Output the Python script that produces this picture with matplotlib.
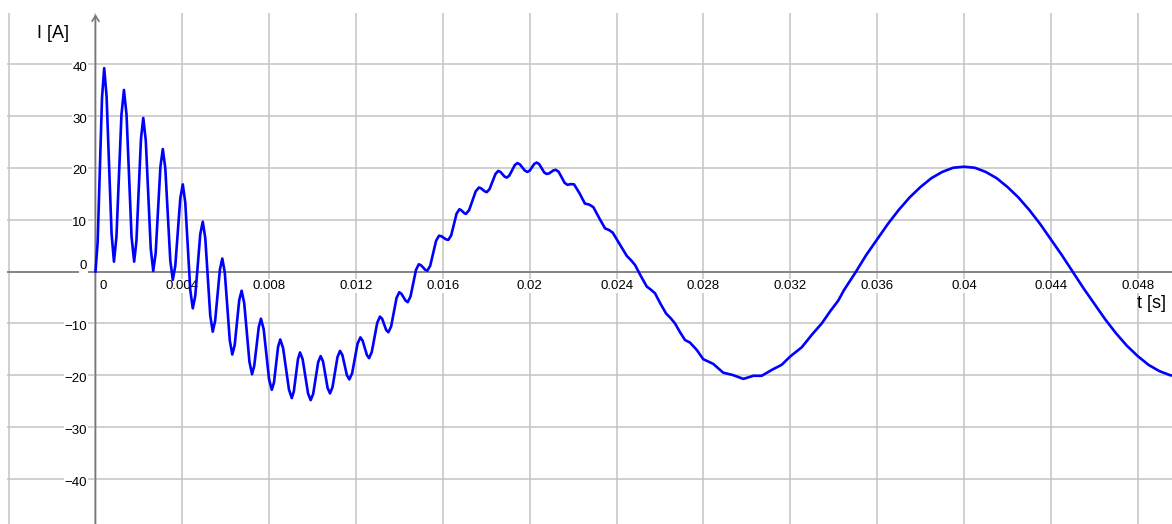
import matplotlib
matplotlib.use("Agg")
import matplotlib.pyplot as plt
import numpy as np

plt.rcParams["font.family"] = ["Liberation Sans", "DejaVu Sans"]

# transient part of the current, time in ms
t_osc = [
    0.00, 0.10, 0.20, 0.30, 0.40,
    0.51, 0.625, 0.74, 0.85,
    0.965, 1.08, 1.195, 1.31,
    1.43, 1.545, 1.66, 1.78,
    1.885, 1.99, 2.095, 2.20,
    2.315, 2.43, 2.545, 2.66,
    2.77, 2.88, 2.99, 3.10,
    3.215, 3.33, 3.445, 3.56,
    3.675, 3.79, 3.905, 4.02,
    4.135, 4.25, 4.365, 4.48,
    4.595, 4.71, 4.825, 4.94,
    5.055, 5.17, 5.285, 5.40,
    5.51, 5.62, 5.73, 5.84,
    5.955, 6.07, 6.185, 6.30,
    6.41, 6.515, 6.62, 6.73,
    6.85, 6.97, 7.09, 7.21,
    7.31, 7.415, 7.52, 7.62,
    7.745, 7.87, 7.995, 8.12,
    8.22, 8.315, 8.41, 8.51,
    8.64, 8.775, 8.91, 9.04,
    9.135, 9.23, 9.325, 9.42,
    9.54, 9.665, 9.79, 9.91,
    10.025, 10.14, 10.255, 10.37,
    10.48, 10.585, 10.69, 10.80,
    10.915, 11.03, 11.145, 11.26,
    11.37, 11.475, 11.58, 11.69,
    11.82, 11.945, 12.07, 12.20,
    12.30, 12.40, 12.50, 12.60,
    12.725, 12.85, 12.975, 13.10,
    13.20, 13.295, 13.39, 13.49,
    13.615, 13.74, 13.865, 13.99,
    14.09, 14.185, 14.28, 14.38,
    14.51, 14.635, 14.76, 14.89,
    14.99, 15.085, 15.18, 15.28,
    15.415, 15.55, 15.685, 15.82,
    15.93, 16.035, 16.14, 16.25,
    16.38, 16.505, 16.63, 16.76,
    16.835, 16.91, 16.985, 17.06,
    17.21, 17.36, 17.51, 17.66,
    17.75, 17.84, 17.93, 18.02,
    18.15, 18.285, 18.42, 18.55,
    18.65, 18.745, 18.84, 18.94,
    19.06, 19.185, 19.31, 19.43,
    19.545, 19.66, 19.775, 19.89,
    20.00, 20.105, 20.21, 20.32,
    20.435, 20.55, 20.665, 20.78,
    20.885, 20.99, 21.095, 21.20,
    21.335, 21.47, 21.605, 21.74,
    21.89, 22.04,
]
i_osc = [
    0.0, 5.7, 19.6, 33.5, 39.2,
    33.8, 20.55, 7.3, 1.9,
    6.7, 18.45, 30.2, 35.0,
    30.2, 18.45, 6.7, 1.9,
    5.9, 15.75, 25.6, 29.6,
    25.3, 14.85, 4.4, 0.1,
    3.5, 11.85, 20.2, 23.6,
    19.9, 11.0, 2.1, -1.6,
    1.1, 7.6, 14.1, 16.8,
    13.3, 4.85, -3.6, -7.1,
    -4.7, 1.25, 7.2, 9.6,
    6.5, -1.0, -8.5, -11.6,
    -9.5, -4.55, 0.4, 2.5,
    -0.2, -6.75, -13.3, -16.0,
    -14.2, -9.85, -5.5, -3.7,
    -6.1, -11.75, -17.4, -19.8,
    -18.2, -14.45, -10.7, -9.1,
    -11.1, -15.95, -20.8, -22.8,
    -21.4, -17.95, -14.5, -13.1,
    -14.75, -18.75, -22.75, -24.4,
    -23.1, -20.0, -16.9, -15.6,
    -16.9, -20.2, -23.5, -24.8,
    -23.6, -20.55, -17.5, -16.3,
    -17.35, -19.9, -22.45, -23.5,
    -22.3, -19.4, -16.5, -15.3,
    -16.1, -18.05, -20.0, -20.8,
    -19.6, -16.75, -13.9, -12.7,
    -13.3, -14.7, -16.1, -16.7,
    -15.5, -12.7, -9.9, -8.7,
    -9.1, -10.2, -11.3, -11.7,
    -10.6, -7.85, -5.1, -4.0,
    -4.3, -4.95, -5.6, -5.9,
    -4.8, -2.25, 0.3, 1.4,
    1.2, 0.8, 0.35, 0.15,
    1.1, 3.5, 5.9, 6.9,
    6.8, 6.5, 6.2, 6.1,
    6.95, 9.05, 11.15, 12.0,
    11.85, 11.55, 11.25, 11.1,
    11.85, 13.65, 15.45, 16.2,
    16.05, 15.75, 15.45, 15.3,
    15.9, 17.35, 18.8, 19.4,
    19.2, 18.75, 18.3, 18.1,
    18.5, 19.5, 20.5, 20.9,
    20.65, 20.05, 19.45, 19.2,
    19.45, 20.1, 20.75, 21.0,
    20.7, 19.9, 19.1, 18.8,
    18.9, 19.2, 19.5, 19.6,
    19.2, 18.15, 17.1, 16.7,
    16.85, 16.8,
]

# small ripple dying out on the falling edge
t_tail = [
    22.29, 22.54, 22.74, 22.93, 23.20, 23.47, 23.65, 23.82, 24.15, 24.47,
    24.66, 24.85, 25.12, 25.39, 25.58, 25.77, 26.02, 26.28, 26.49, 26.69,
    26.92, 27.15, 27.38, 27.69, 27.99, 28.45, 28.91, 29.35, 29.84, 30.30,
    30.68, 31.22, 31.60, 31.99, 32.53, 32.99, 33.45, 33.83, 34.21, 34.47,
]
i_tail = [
    15.1, 13.1, 12.9, 12.4, 10.3, 8.3, 8.0, 7.5, 5.2, 3.0,
    2.2, 1.25, -0.9, -2.9, -3.5, -4.2, -6.2, -8.1, -9.0, -10.0,
    -11.7, -13.2, -13.7, -15.1, -16.9, -17.8, -19.5, -19.95, -20.7, -20.1,
    -20.1, -18.8, -18.0, -16.4, -14.6, -12.2, -10.0, -7.7, -5.6, -3.6,
]

# steady state
t_steady = [
    35.0, 35.5, 36.0, 36.5, 37.0, 37.5, 38.0, 38.5, 39.0, 39.5,
    40.0, 40.5, 41.0, 41.5, 42.0, 42.5, 43.0, 43.5, 44.0, 44.5,
    45.0, 45.5, 46.0, 46.5, 47.0, 47.5, 48.0, 48.5, 49.0, 49.5, 50.0,
]
i_steady = [
    -0.2, 3.2, 6.2, 9.2, 11.9, 14.3, 16.3, 18.0, 19.2, 20.0,
    20.2, 20.0, 19.2, 18.0, 16.3, 14.3, 11.9, 9.2, 6.2, 3.2,
    0.0, -3.2, -6.2, -9.2, -11.9, -14.3, -16.3, -18.0, -19.2, -20.0, -20.2,
]

x_grid = [-0.004, 0.0, 0.004, 0.008, 0.012, 0.016, 0.02, 0.024,
          0.028, 0.032, 0.036, 0.04, 0.044, 0.048]
y_grid = [-40, -30, -20, -10, 0, 10, 20, 30, 40]

AXIS_GRAY = "#777777"
GRID_GRAY = "#c4c4c4"
TICK_SIZE = 9.5


def fmt(v):
    return f"{v:g}".replace("-", "\u2212")


def main():
    t = np.concatenate([t_osc, t_tail, t_steady]) / 1000.0
    current = np.concatenate([i_osc, i_tail, i_steady])

    fig = plt.figure(figsize=(11.72, 5.24), dpi=100)
    ax = fig.add_axes([7 / 1172, 0, 1165 / 1172, 511 / 524])
    ax.set_xlim(-0.004076, 0.04958)
    ax.set_ylim(-48.67, 49.83)
    for spine in ax.spines.values():
        spine.set_visible(False)

    ax.set_xticks(x_grid)
    ax.set_yticks(y_grid)
    ax.tick_params(length=0, labelbottom=False, labelleft=False)
    ax.set_axisbelow(True)
    ax.grid(True, color=GRID_GRAY, lw=1.1)

    # axes through the origin, arrow on the current axis
    ax.axhline(0, color=AXIS_GRAY, lw=1.2, zorder=1)
    ax.annotate("", xy=(0, 49.6), xytext=(0, -48.67),
                arrowprops=dict(arrowstyle="->,head_length=0.4,head_width=0.25",
                                color=AXIS_GRAY, lw=1.2, shrinkA=0, shrinkB=0),
                zorder=1)

    box = dict(facecolor="white", edgecolor="none", pad=0.6)
    for x in x_grid:
        if x < 0:
            continue
        if x == 0:
            ax.annotate(fmt(x), xy=(x, 0), xytext=(2.7, -12.7), textcoords="offset points",
                        ha="left", va="baseline", fontsize=TICK_SIZE, bbox=box, zorder=2)
        else:
            ax.annotate(fmt(x), xy=(x, 0), xytext=(0, -12.7), textcoords="offset points",
                        ha="center", va="baseline", fontsize=TICK_SIZE, bbox=box, zorder=2)
    for y in y_grid:
        dy = 2.0 if y == 0 else -4.8
        ax.annotate(fmt(y), xy=(0, y), xytext=(-5.9, dy), textcoords="offset points",
                    ha="right", va="baseline", fontsize=TICK_SIZE, bbox=box, zorder=2)

    fig.text(36.7 / 1172, 1 - 33 / 524, "I [A]", ha="left", va="center", fontsize=13)
    fig.text(1165.7 / 1172, 1 - 303 / 524, "t [s]", ha="right", va="center", fontsize=13)

    ax.plot(t, current, color="#0000ff", lw=1.9, solid_joinstyle="round", zorder=3)

    fig.savefig("out.png", dpi=100)


if __name__ == "__main__":
    main()
